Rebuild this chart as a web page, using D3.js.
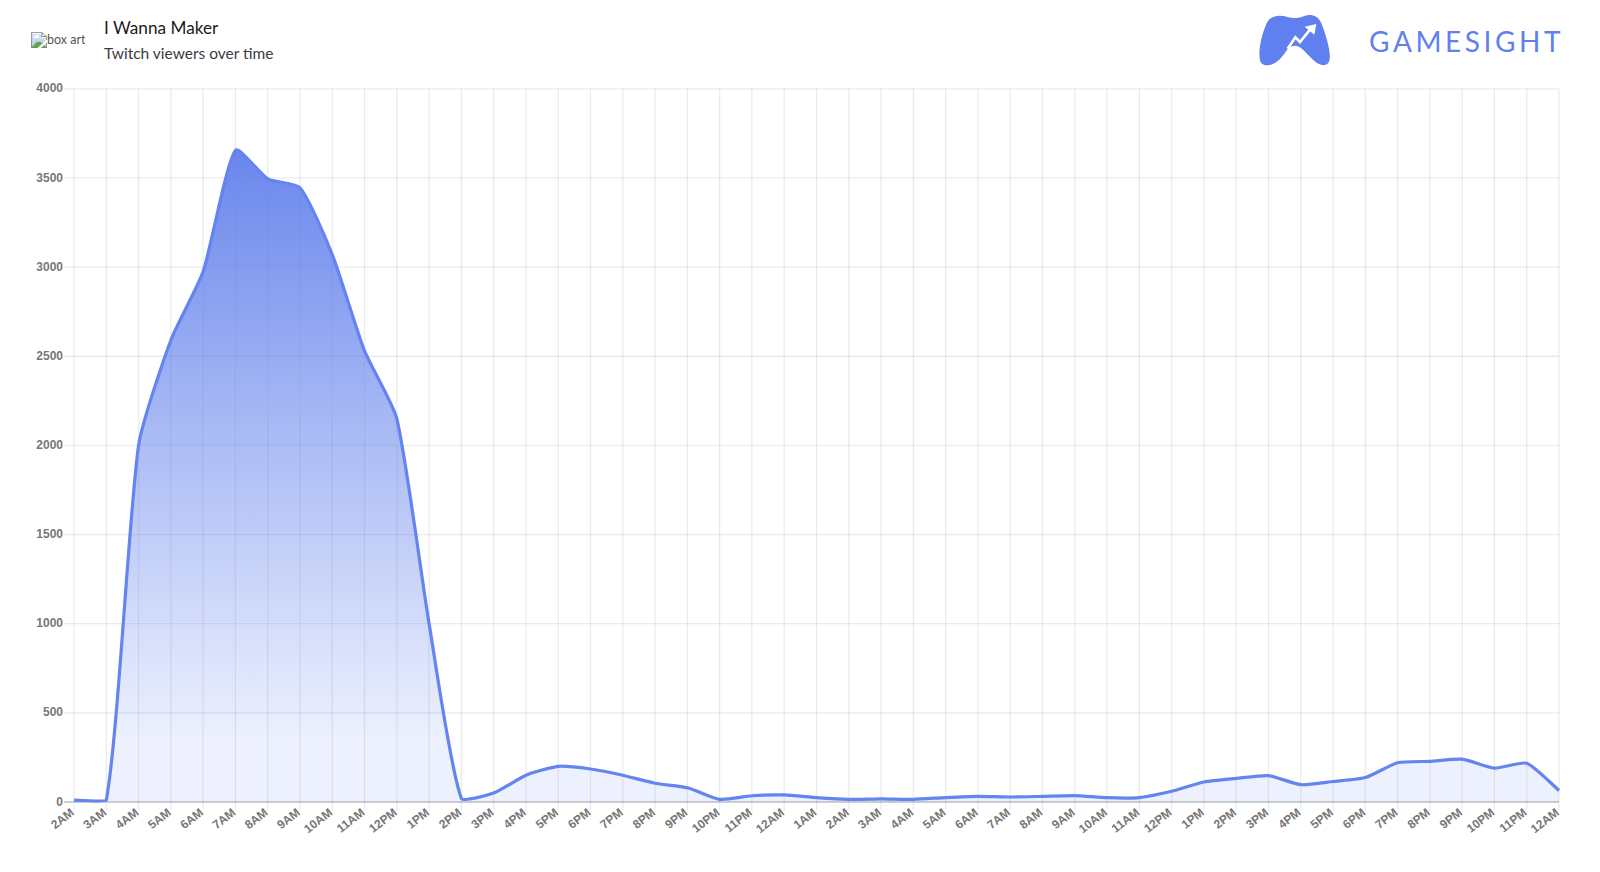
<!DOCTYPE html>
<html>
<head>
<meta charset="utf-8">
<script src="https://d3js.org/d3.v7.min.js"></script>
<style>
    html, body { margin: 0; padding: 0; background: #fff; overflow: hidden; }
    #boxart { position: absolute; left: 31px; top: 32px; font: 12.5px Lato; color: #555; }
    svg { position: absolute; left: 0; top: 0; }
</style>
</head>
<body>
<img id="boxart" src="boxart.png" alt="box art">
<svg id="chart" width="1600" height="872"></svg>
<script>
// x axis labels, one per hour
const hourLabels = ["2AM","3AM","4AM","5AM","6AM","7AM","8AM","9AM","10AM","11AM","12PM","1PM","2PM","3PM","4PM","5PM","6PM","7PM","8PM","9PM","10PM","11PM",
    "12AM","1AM","2AM","3AM","4AM","5AM","6AM","7AM","8AM","9AM","10AM","11AM","12PM","1PM","2PM","3PM","4PM","5PM","6PM","7PM","8PM","9PM","10PM","11PM","12AM"];
// viewers
const viewers = [10,10,2000,2590,2975,3655,3495,3445,3070,2530,2150,1000,20,50,150,200,185,150,105,80,15,35,
    40,25,15,18,15,25,32,28,32,36,24,25,60,112,132,148,97,115,137,220,228,240,190,217,65];
const yTicks = [0,500,1000,1500,2000,2500,3000,3500,4000];

const margin = {top: 88.8, right: 41, bottom: 70, left: 74};
const width = 1600 - margin.left - margin.right;
const height = 872 - margin.top - margin.bottom;

const svg = d3.select("#chart");

//gradient under the line
const grad = svg.append("defs").append("linearGradient")
    .attr("id","fade")
    .attr("gradientUnits","userSpaceOnUse")
    .attr("x1",0).attr("x2",0).attr("y1",0).attr("y2",652);
grad.append("stop").attr("offset","0%").attr("stop-color","#5c7bea").attr("stop-opacity",1);
grad.append("stop").attr("offset","100%").attr("stop-color","#5f7fee").attr("stop-opacity",0.11);

const x = d3.scalePoint().domain(d3.range(hourLabels.length)).range([0,width]);
const y = d3.scaleLinear().domain([0,4000]).range([height,0]);

//distance weighted spline, control points kept inside the plot
function weightedSpline(context) {
    const t = 0.2, maxY = height, minY = 0;
    const cap = v => Math.max(minY, Math.min(maxY, v));
    return {
        areaStart() { this.count = 0; this.inArea = true; },
        areaEnd() { context.closePath(); this.inArea = false; },
        lineStart() { this.pts = []; },
        point(px, py) { this.pts.push([+px, +py]); },
        lineEnd() {
            const pts = this.pts, n = pts.length;
            if (this.inArea && this.count > 0) context.lineTo(pts[0][0], pts[0][1]);
            else context.moveTo(pts[0][0], pts[0][1]);
            if (this.inArea) this.count++;
            const ctrl = pts.map((p, i) => {
                const a = pts[Math.max(i-1,0)], b = pts[Math.min(i+1,n-1)];
                const d01 = Math.hypot(p[0]-a[0], p[1]-a[1]), d12 = Math.hypot(b[0]-p[0], b[1]-p[1]);
                const sum = (d01 + d12) || 1;
                const fa = t*d01/sum, fb = t*d12/sum;
                return {
                    inX: p[0]-fa*(b[0]-a[0]), inY: cap(p[1]-fa*(b[1]-a[1])),
                    outX: p[0]+fb*(b[0]-a[0]), outY: cap(p[1]+fb*(b[1]-a[1]))
                };
            });
            for (let i = 1; i < n; i++) {
                context.bezierCurveTo(ctrl[i-1].outX, ctrl[i-1].outY, ctrl[i].inX, ctrl[i].inY, pts[i][0], pts[i][1]);
            }
        }
    };
}

const g = svg.append("g").attr("transform",`translate(${margin.left},${margin.top})`);

//grid lines
g.append("g").selectAll("line").data(yTicks).join("line")
    .attr("x1",-10).attr("x2",width)
    .attr("y1",d=>y(d)).attr("y2",d=>y(d))
    .attr("stroke",d=>d===0 ? "rgba(0,0,0,0.25)" : "rgba(0,0,0,0.08)")
    .attr("stroke-width",1.3);
g.append("g").selectAll("line").data(d3.range(hourLabels.length)).join("line")
    .attr("x1",d=>x(d)).attr("x2",d=>x(d))
    .attr("y1",0).attr("y2",height+8)
    .attr("stroke","rgba(0,0,0,0.08)")
    .attr("stroke-width",1.3);

//y labels
g.append("g").selectAll("text").data(yTicks).join("text")
    .attr("x",-11).attr("y",d=>y(d)).attr("dy","0.3em")
    .attr("text-anchor","end")
    .attr("font-family","Liberation Sans").attr("font-size",12).attr("font-weight","bold")
    .attr("fill","#777")
    .text(d=>d);

//x labels, rotated
g.append("g").selectAll("text").data(hourLabels).join("text")
    .attr("transform",(d,i)=>`translate(${x(i)+1},${height+12}) rotate(-38)`)
    .attr("text-anchor","end")
    .attr("font-family","Liberation Sans").attr("font-size",12).attr("font-weight","bold")
    .attr("fill","#777")
    .text(d=>d);

const area = d3.area().x((d,i)=>x(i)).y0(height).y1(d=>y(d)).curve(weightedSpline);
const line = d3.line().x((d,i)=>x(i)).y(d=>y(d)).curve(weightedSpline);

const gMarks = g.append("g");
gMarks.append("path").datum(viewers).attr("d",area).attr("fill","url(#fade)");
gMarks.append("path").datum(viewers).attr("d",line).attr("fill","none").attr("stroke","#6484f0").attr("stroke-width",3.2);

//header text
svg.append("text").attr("x",104).attr("y",34).attr("font-family","Lato").attr("font-size",17.2).attr("fill","#1b1b22").text("I Wanna Maker");
svg.append("text").attr("x",104).attr("y",59).attr("font-family","Lato").attr("font-size",15.5).attr("fill","#3a3a44").text("Twitch viewers over time");

//logo, traced at 3x from the crop
const logo = svg.append("g").attr("transform","translate(1250,10) scale(0.3333)");
logo.append("path")
    .attr("d","M30 150 C24 125 34 75 50 40 C60 18 85 14 105 19 C125 26 145 26 165 17 C185 12 205 18 214 40 C228 75 243 125 239 148 C236 168 218 170 200 158 C180 144 165 122 150 112 C138 104 125 106 115 115 C100 135 85 160 60 165 C45 168 33 164 30 150 Z")
    .attr("fill","#5f80ee");
logo.append("path")
    .attr("d","M113 116 L136 82 L150 96 L183 55")
    .attr("fill","none").attr("stroke","#fff").attr("stroke-width",8);
logo.append("path").attr("d","M164 50 L199 42 L193 74 Z").attr("fill","#fff");
svg.append("text").attr("x",1369).attr("y",52).attr("font-family","Lato").attr("font-size",28).attr("letter-spacing",3.6).attr("fill","#5f80ee").text("GAMESIGHT");
</script>
</body>
</html>
